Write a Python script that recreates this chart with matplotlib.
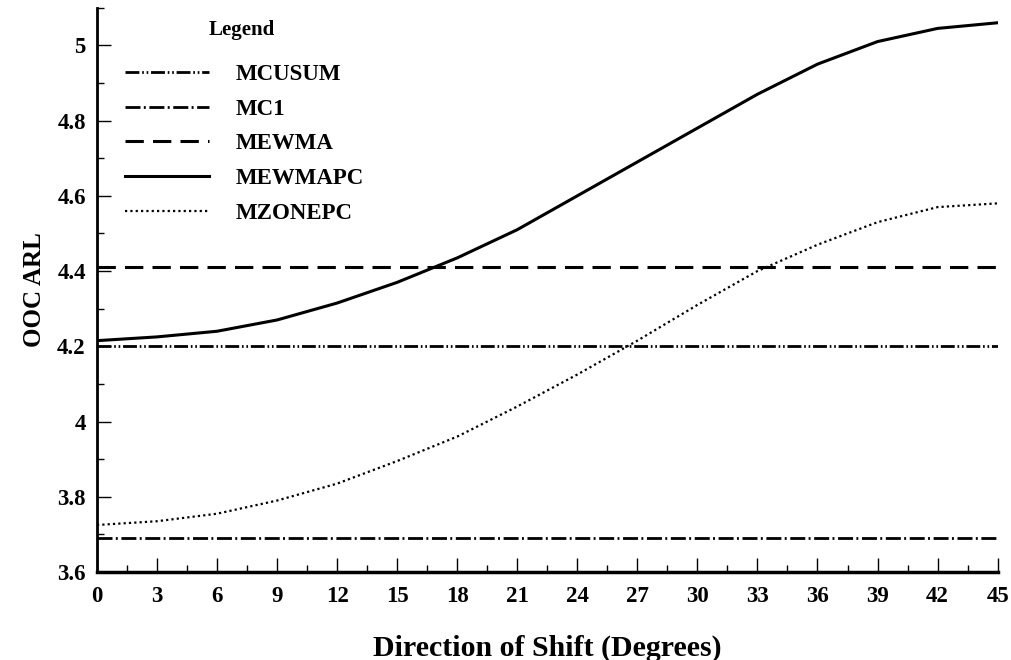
import matplotlib.pyplot as plt
from matplotlib.ticker import MultipleLocator

plt.rcParams['font.family'] = ['Liberation Serif', 'DejaVu Serif']

shift = [0, 3, 6, 9, 12, 15, 18, 21, 24, 27, 30, 33, 36, 39, 42, 45]
mewmapc = [4.215, 4.225, 4.24, 4.27, 4.315, 4.37, 4.435, 4.51, 4.6, 4.69,
           4.78, 4.87, 4.95, 5.01, 5.045, 5.06]
mzonepc = [3.725, 3.735, 3.755, 3.79, 3.835, 3.895, 3.96, 4.04, 4.125, 4.215,
           4.31, 4.4, 4.47, 4.53, 4.57, 4.58]
mcusum = [4.2] * len(shift)
mc1 = [3.69] * len(shift)
mewma = [4.41] * len(shift)

fig = plt.figure(figsize=(10.12, 6.6), dpi=100)
ax = fig.add_axes([0.0958, 0.1333, 0.89, 0.855])

ax.plot(shift, mcusum, color='black', lw=2, ls=(0, (5, 1, 0.6, 1, 0.6, 1)), label='MCUSUM')
ax.plot(shift, mc1, color='black', lw=2, ls=(0, (5.4, 1.2, 0.7, 1.3)), label='MC1')
ax.plot(shift, mewma, color='black', lw=2.2, ls=(0, (6, 3)), label='MEWMA')
ax.plot(shift, mewmapc, color='black', lw=2.2, ls='-', label='MEWMAPC')
ax.plot(shift, mzonepc, color='black', lw=1.6, ls=(0, (1, 1.4)), label='MZONEPC')

ax.set_xlim(0, 45)
ax.set_ylim(3.6, 5.1)
ax.xaxis.set_major_locator(MultipleLocator(3))
ax.xaxis.set_minor_locator(MultipleLocator(1.5))
ax.yaxis.set_minor_locator(MultipleLocator(0.1))
ax.set_yticks([3.6, 3.8, 4.0, 4.2, 4.4, 4.6, 4.8, 5.0])
ax.set_yticklabels(['3.6', '3.8', '4', '4.2', '4.4', '4.6', '4.8', '5'])
ax.tick_params(which='major', direction='in', length=10, width=1, labelsize=16.5)
ax.tick_params(which='minor', direction='in', length=5, width=1)
ax.tick_params(axis='y', pad=8)
ax.tick_params(axis='x', pad=10)
for lab in ax.get_xticklabels() + ax.get_yticklabels():
    lab.set_fontweight('bold')

ax.spines['top'].set_visible(False)
ax.spines['right'].set_visible(False)
ax.spines['left'].set_linewidth(2)
ax.spines['bottom'].set_linewidth(2.5)

ax.set_xlabel('Direction of Shift (Degrees)', fontsize=21.5, fontweight='bold', labelpad=20)
ax.set_ylabel('OOC ARL', fontsize=18, fontweight='bold', labelpad=8)

leg = ax.legend(loc='upper left', bbox_to_anchor=(0.1027, 0.9346),
                bbox_transform=fig.transFigure, frameon=False,
                handlelength=3.7, handletextpad=1.15,
                labelspacing=0.6, prop={'size': 16.5, 'weight': 'bold'})
fig.text(0.239, 1 - 30 / 660, 'Legend', ha='center', va='center',
         fontsize=15, fontweight='bold')

fig.savefig('out.png', dpi=100)
